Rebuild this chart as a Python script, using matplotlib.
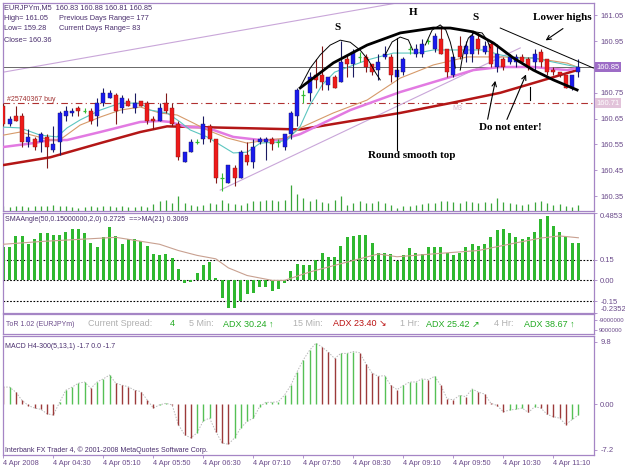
import matplotlib
matplotlib.use("Agg")
import matplotlib.pyplot as plt

plt.rcParams['font.family'] = ['Liberation Sans', 'DejaVu Sans']

# ---- EURJPYm M5 candles, 4 Apr 2008 03:50 .. 11:30 ----
opens = [160.70, 160.63, 160.66, 160.66, 160.56, 160.57, 160.56, 160.58, 160.53, 160.56,
         160.66, 160.67, 160.69, 160.68, 160.68, 160.66, 160.71, 160.73, 160.74, 160.69,
         160.72, 160.69, 160.72, 160.71, 160.65, 160.64, 160.71, 160.69, 160.63, 160.48,
         160.52, 160.56, 160.57, 160.62, 160.57, 160.42, 160.40, 160.46, 160.42, 160.51,
         160.48, 160.56, 160.56, 160.57, 160.56, 160.54, 160.59, 160.66, 160.74, 160.75,
         160.82, 160.82, 160.78, 160.81, 160.79, 160.88, 160.86, 160.89, 160.89, 160.86,
         160.84, 160.89, 160.89, 160.81, 160.83, 160.92, 160.90, 160.90, 160.95, 160.92,
         160.96, 160.92, 160.82, 160.93, 160.90, 160.90, 160.96, 160.91, 160.94, 160.85,
         160.88, 160.87, 160.87, 160.89, 160.88, 160.87, 160.91, 160.88, 160.84, 160.83,
         160.82, 160.77, 160.83]
highs = [160.71, 160.66, 160.70, 160.67, 160.61, 160.58, 160.60, 160.59, 160.62, 160.68,
         160.70, 160.69, 160.70, 160.69, 160.69, 160.73, 160.77, 160.76, 160.75, 160.74,
         160.73, 160.75, 160.72, 160.72, 160.66, 160.71, 160.75, 160.71, 160.64, 160.52,
         160.57, 160.57, 160.66, 160.63, 160.57, 160.44, 160.47, 160.47, 160.53, 160.56,
         160.57, 160.58, 160.58, 160.58, 160.57, 160.59, 160.68, 160.77, 160.76, 160.83,
         160.88, 160.93, 160.81, 160.82, 160.95, 160.90, 160.92, 160.91, 160.90, 160.86,
         160.90, 160.93, 160.90, 160.92, 160.89, 160.93, 160.94, 160.96, 160.96, 160.98,
         161.01, 160.92, 160.89, 160.97, 160.95, 160.99, 160.98, 160.95, 160.95, 160.94,
         160.89, 160.90, 160.90, 160.90, 160.89, 160.92, 160.92, 160.88, 160.85, 160.83,
         160.82, 160.82, 160.88]
lows = [160.62, 160.62, 160.64, 160.54, 160.54, 160.53, 160.52, 160.46, 160.52, 160.51,
        160.64, 160.66, 160.66, 160.67, 160.63, 160.62, 160.70, 160.73, 160.63, 160.67,
        160.70, 160.67, 160.70, 160.63, 160.61, 160.64, 160.67, 160.62, 160.49, 160.48,
        160.52, 160.55, 160.55, 160.56, 160.40, 160.37, 160.40, 160.39, 160.42, 160.47,
        160.46, 160.55, 160.49, 160.53, 160.54, 160.53, 160.57, 160.62, 160.71, 160.72,
        160.77, 160.76, 160.76, 160.77, 160.79, 160.81, 160.81, 160.87, 160.83, 160.82,
        160.80, 160.88, 160.79, 160.80, 160.82, 160.90, 160.89, 160.89, 160.94, 160.91,
        160.90, 160.81, 160.81, 160.88, 160.87, 160.87, 160.90, 160.90, 160.85, 160.83,
        160.84, 160.86, 160.85, 160.86, 160.84, 160.84, 160.85, 160.82, 160.82, 160.81,
        160.77, 160.76, 160.81]
closes = [160.63, 160.65, 160.64, 160.56, 160.58, 160.54, 160.59, 160.54, 160.55, 160.67,
          160.68, 160.68, 160.68, 160.68, 160.64, 160.71, 160.75, 160.75, 160.68, 160.73,
          160.70, 160.71, 160.70, 160.64, 160.64, 160.69, 160.68, 160.63, 160.50, 160.52,
          160.56, 160.56, 160.63, 160.57, 160.42, 160.42, 160.47, 160.42, 160.52, 160.48,
          160.54, 160.57, 160.57, 160.55, 160.56, 160.59, 160.67, 160.76, 160.74, 160.81,
          160.80, 160.79, 160.81, 160.77, 160.87, 160.86, 160.91, 160.89, 160.85, 160.83,
          160.87, 160.90, 160.82, 160.84, 160.88, 160.92, 160.92, 160.94, 160.95, 160.97,
          160.90, 160.83, 160.89, 160.89, 160.93, 160.97, 160.92, 160.93, 160.86, 160.90,
          160.85, 160.89, 160.89, 160.87, 160.85, 160.90, 160.87, 160.83, 160.83, 160.82,
          160.77, 160.82, 160.85]
volumes = [50, 45, 50, 55, 45, 50, 55, 55, 60, 55,
           55, 40, 35, 40, 50, 45, 50, 55, 45, 50,
           40, 45, 50, 45, 70, 100, 110, 80, 150, 80,
           65, 50, 65, 80, 70, 115, 80, 70, 65, 80,
           100, 105, 115, 115, 100, 110, 260, 170, 130, 100,
           125, 95, 85, 115, 150, 65, 85, 100, 85, 85,
           100, 85, 65, 35, 50, 50, 65, 75, 85, 85,
           100, 105, 95, 85, 105, 95, 85, 95, 85, 135,
           95, 85, 75, 65, 75, 95, 100, 85, 65, 75,
           50, 40, 65]

# moving averages on the price chart, sampled as (bar, price)
ma_fast_x = [0, 2.7, 5.9, 8.6, 10.2, 12.3, 15.5, 18.7, 21.9, 23.5, 26.2, 28.3, 29.9, 32.6,
             34.7, 36.8, 39, 41.1, 43.8, 45.4, 47.5, 49, 51, 53, 58.2, 62.4, 66.2, 68.8,
             74.2, 76.8, 79.5, 82.2, 84.8, 88, 91.8]
ma_fast_y = [160.617, 160.614, 160.586, 160.579, 160.614, 160.645, 160.683, 160.71, 160.71,
             160.683, 160.672, 160.637, 160.606, 160.579, 160.548, 160.517, 160.52, 160.555,
             160.559, 160.567, 160.62, 160.70, 160.78, 160.83, 160.877, 160.904, 160.904,
             160.916, 160.916, 160.916, 160.897, 160.885, 160.885, 160.869, 160.85]
ma_mid_x = [0, 2.7, 7.5, 9, 12.3, 15.5, 18.7, 21.9, 25, 27.8, 30.4, 32.6, 35.8, 39, 42.2,
            45.4, 47.5, 52.8, 58.2, 63.5, 68.8, 74.2, 79.5, 84.8, 90.2, 91.8]
ma_mid_y = [160.586, 160.598, 160.567, 160.567, 160.625, 160.656, 160.683, 160.695, 160.672,
            160.664, 160.633, 160.606, 160.575, 160.555, 160.567, 160.575, 160.614, 160.672,
            160.722, 160.807, 160.858, 160.889, 160.889, 160.885, 160.865, 160.85]
ma_pink_x = [0, 4.8, 7.5, 10.2, 15.5, 21.9, 25, 26.7, 29.4, 31.5, 33.6, 36.8, 41.1, 44.3,
             47.5, 55.5, 63.5, 71.5, 75.2, 79.5, 84.8, 90.2, 91.8]
ma_pink_y = [160.54, 160.555, 160.567, 160.567, 160.598, 160.637, 160.641, 160.637, 160.617,
             160.617, 160.606, 160.579, 160.567, 160.567, 160.59, 160.683, 160.753, 160.811,
             160.838, 160.85, 160.85, 160.838, 160.846]
ma_slow_x = [0, 7.5, 15.5, 21.9, 26.2, 31.5, 36.8, 47.5, 63.5, 71.5, 79.5, 87.5, 91.8]
ma_slow_y = [160.47, 160.50, 160.555, 160.598, 160.62, 160.617, 160.614, 160.608, 160.672,
             160.71, 160.75, 160.807, 160.838]

# SMAAngle histogram and its MA(21)
sma_angle = [0.24, 0.24, 0.32, 0.32, 0.26, 0.30, 0.34, 0.34, 0.33, 0.33,
             0.35, 0.37, 0.37, 0.34, 0.27, 0.24, 0.31, 0.385, 0.32, 0.26,
             0.30, 0.30, 0.28, 0.25, 0.19, 0.18, 0.19, 0.16, 0.08, -0.02,
             -0.01, 0.05, 0.11, 0.13, 0.02, -0.13, -0.20, -0.20, -0.15, -0.10,
             -0.09, -0.05, -0.05, -0.08, -0.06, -0.02, 0.065, 0.12, 0.11, 0.11,
             0.15, 0.20, 0.17, 0.17, 0.25, 0.31, 0.32, 0.33, 0.33, 0.27,
             0.20, 0.20, 0.19, 0.14, 0.18, 0.23, 0.20, 0.19, 0.24, 0.24,
             0.24, 0.20, 0.18, 0.20, 0.24, 0.26, 0.25, 0.26, 0.31, 0.36,
             0.37, 0.34, 0.31, 0.30, 0.31, 0.35, 0.44, 0.465, 0.39, 0.35,
             0.31, 0.27, 0.2725]
sma_ma_x = [0, 6, 18, 25, 28, 31, 34, 36, 39, 43, 45, 49, 54, 57, 60, 63, 70, 76, 82, 86, 89, 92]
sma_ma_y = [0.26, 0.28, 0.31, 0.26, 0.215, 0.18, 0.155, 0.09, 0.035, 0.0, 0.0, 0.06, 0.12,
            0.155, 0.19, 0.17, 0.195, 0.215, 0.27, 0.305, 0.32, 0.3069]

# MACD H4-300(5,13,1)
macd = [2.7, 2.7, 1.9, 0.6, -0.2, -0.6, -0.8, -1.5, -1.7, 0.3,
        2.2, 2.7, 3.3, 3.5, 2.5, 3.5, 4.0, 4.6, 3.3, 3.0,
        2.75, 2.2, 2.0, 0.7, -0.6, -0.1, 0.15, -0.1, -3.2, -4.8,
        -5.3, -4.5, -2.6, -2.2, -4.3, -6.1, -6.3, -5.3, -3.7, -2.7,
        -2.2, -0.4, 0.3, 0.3, 0.4, 1.45, 3.0, 5.1, 7.0, 8.5,
        9.6, 9.0, 8.2, 7.2, 8.0, 8.0, 8.3, 8.1, 6.4, 4.9,
        4.4, 4.5, 2.95, 2.3, 2.95, 3.5, 3.5, 4.0, 3.85, 4.4,
        2.95, 0.85, 0.7, 1.4, 1.2, 2.4, 1.9, 1.6, 0.15, -0.2,
        -1.2, -0.9, -0.8, -0.6, -1.3, -0.4, -0.6, -1.6, -1.95, -2.2,
        -3.2, -2.4, -1.7]

time_ticks = [0, 8, 16, 24, 32, 40, 48, 56, 64, 72, 80, 88]
time_labels = ["4 Apr 2008", "4 Apr 04:30", "4 Apr 05:10", "4 Apr 05:50", "4 Apr 06:30",
               "4 Apr 07:10", "4 Apr 07:50", "4 Apr 08:30", "4 Apr 09:10", "4 Apr 09:50",
               "4 Apr 10:30", "4 Apr 11:10"]
price_ticks = [160.35, 160.45, 160.55, 160.65, 160.75, 160.95, 161.05]
last_price = 160.85
order_price = 160.71

# ---- layout in pixels ----
W, H = 625, 469
BORDER = '#a585c5'
LABEL = '#6a4a8a'
TEXT = '#4a2f6e'
XLIM = (-0.05, 94.5)

fig = plt.figure(figsize=(W / 100, H / 100), dpi=100)
fig.patch.set_facecolor('white')


def panel(top, bottom, left=3, right=594):
    ax = fig.add_axes([left / W, 1 - bottom / H, (right - left) / W, (bottom - top) / H])
    ax.set_xlim(*XLIM)
    for s in ax.spines.values():
        s.set_color(BORDER)
        s.set_linewidth(0.9)
    ax.yaxis.tick_right()
    ax.tick_params(axis='y', direction='out', length=2.5, width=0.6, color=BORDER,
                   labelcolor=LABEL, labelsize=5.5, pad=2)
    ax.tick_params(axis='x', bottom=False, labelbottom=False)
    return ax


def ftext(px, py, s, **kw):
    fig.text(px / W, 1 - py / H, s, va='center', **kw)


# ---- main price chart ----
ax = panel(3, 211)
ax.set_ylim(160.292, 161.098)
ax.set_yticks(price_ticks)
ax.set_yticklabels([f"{p:.2f}" for p in price_ticks])

idx = list(range(len(opens)))

# volumes along the bottom of the price chart
vol_scale = 2080
ax.vlines(idx, 0, [v / vol_scale for v in volumes], transform=ax.get_xaxis_transform(),
          color='#3aa63a', lw=0.9, zorder=1)

# trend lines and levels
ax.plot([0, 70], [160.83, 161.128], color='#c9a6d9', lw=0.8, zorder=2)
ax.plot([34.7, 82.7], [160.373, 160.924], color='#c9a6d9', lw=0.8, zorder=2)
ax.axhline(last_price, color='#505050', lw=0.6, zorder=2)
ax.axhline(order_price, color='#b03030', lw=0.8, ls=(0, (6, 3, 1, 3)), zorder=2)

# moving averages
ax.plot(ma_slow_x, ma_slow_y, color='#b31616', lw=1.8, zorder=3)
ax.plot(ma_pink_x, ma_pink_y, color='#e27ae2', lw=1.8, zorder=3)
ax.plot(ma_mid_x, ma_mid_y, color='#d69a6a', lw=0.8, zorder=3)
ax.plot(ma_fast_x, ma_fast_y, color='#5cc6c0', lw=0.8, zorder=3)

# candles
for i in idx:
    o, h, l, c = opens[i], highs[i], lows[i], closes[i]
    if c > o:
        body, wick = '#1a1aee', '#1a1a60'
    elif c < o:
        body, wick = '#ee1a1a', '#801818'
    else:
        body, wick = '#33bb33', '#33bb33'
    ax.vlines(i, l, h, color=wick, lw=0.8, zorder=4)
    if c == o:
        ax.hlines(o, i - 0.3, i + 0.3, color=body, lw=0.9, zorder=5)
    else:
        ax.bar(i, abs(c - o), bottom=min(o, c), width=0.62, color=body,
               edgecolor=wick, linewidth=0.3, zorder=5)

# hand drawn head-and-shoulders marks
ax.plot([47.5, 52.8, 58.2, 63.5, 68.8, 71.5, 75.2, 78.4, 81.6, 84.8, 88, 91.8],
        [160.769, 160.866, 160.935, 160.982, 161.001, 161.001, 160.986, 160.943,
         160.885, 160.838, 160.80, 160.761], color='black', lw=2.0, zorder=6)
ax.plot([47.5, 49.1, 50.7, 52.3, 53.9, 55.5, 57.1, 58.4, 59.5, 60.3],
        [160.772, 160.846, 160.897, 160.935, 160.954, 160.946, 160.915, 160.877, 160.83, 160.80],
        color='black', lw=0.7, zorder=6)
ax.plot([61.1, 62.2, 63.5, 64.8, 65.5], [160.897, 160.947, 160.966, 160.955, 160.916],
        color='black', lw=0.7, zorder=6)
ax.plot([67.5, 68.6, 69.9, 70.8, 71.5, 72.0, 72.3],
        [160.935, 160.993, 161.013, 160.993, 160.947, 160.897, 160.846],
        color='black', lw=0.7, zorder=6)
ax.plot([73.1, 73.6, 74.4, 75.5, 76.6, 77.4, 77.9],
        [160.838, 160.908, 160.962, 160.986, 160.982, 160.955, 160.924],
        color='black', lw=0.7, zorder=6)
ax.plot([79.5, 94.4], [161.001, 160.846], color='black', lw=0.7, zorder=6)
ax.plot([63, 63], [160.962, 160.528], color='black', lw=0.8, zorder=6)
ax.plot([84.3, 84.3], [160.772, 160.722], color='black', lw=0.8, zorder=6)

arrow = dict(arrowstyle='->', color='black', lw=0.8, mutation_scale=8)
ax.annotate('', xy=(78.8, 160.807), xytext=(77.4, 160.637), arrowprops=arrow, zorder=6)
ax.annotate('', xy=(83.8, 160.831), xytext=(80.4, 160.637), arrowprops=arrow, zorder=6)
ax.annotate('', xy=(86.4, 160.947), xytext=(89.9, 161.005), arrowprops=arrow, zorder=6)

serif = dict(family=['Liberation Serif', 'DejaVu Serif'], fontweight='bold', color='black',
             ha='center', va='center', zorder=7)
ax.text(53.4, 161.005, 'S', fontsize=8, **serif)
ax.text(65.5, 161.063, 'H', fontsize=8, **serif)
ax.text(75.5, 161.04, 'S', fontsize=8, **serif)
ax.text(89.5, 161.04, 'Lower highs', fontsize=8, **serif)
ax.text(65.4, 160.509, 'Round smooth top', fontsize=8, **serif)
ax.text(81.1, 160.614, 'Do not enter!', fontsize=8, **serif)

ax.text(0.6, 160.726, '#25740367 buy', fontsize=5, color='#a03030', va='center', zorder=7)
ax.text(71.8, 160.69, 'M3', fontsize=5, color='#d0b8d0', va='center', zorder=7)

# price boxes on the right scale
ax.text(1.004, last_price, f"{last_price:.2f}", transform=ax.get_yaxis_transform(),
        fontsize=5.5, color='white', va='center', ha='left',
        bbox=dict(boxstyle='square,pad=0.2', fc='#9d6cc6', ec='none'))
ax.text(1.004, order_price, f"{order_price:.2f}", transform=ax.get_yaxis_transform(),
        fontsize=5.5, color='white', va='center', ha='left',
        bbox=dict(boxstyle='square,pad=0.2', fc='#e2c3da', ec='none'))

# info block
ftext(4, 8, 'EURJPYm,M5  160.83 160.88 160.81 160.85', fontsize=5.3, color=TEXT)
ftext(4, 18, 'High= 161.05', fontsize=5.3, color=TEXT)
ftext(59, 18, 'Previous Days Range= 177', fontsize=5.3, color=TEXT)
ftext(4, 29, 'Low= 159.28', fontsize=5.3, color=TEXT)
ftext(59, 29, 'Current Days Range= 83', fontsize=5.3, color=TEXT)
ftext(4, 40, 'Close= 160.36', fontsize=5.3, color=TEXT)

# ---- SMAAngle panel ----
ax2 = panel(213, 313)
ax2.set_ylim(-0.2352, 0.4853)
ax2.bar(idx, sma_angle, width=0.5, color='#2fb82f', zorder=2)
ax2.plot(sma_ma_x, sma_ma_y, color='#c8a090', lw=0.8, zorder=3)
for lvl in (0.15, 0.0, -0.15):
    ax2.axhline(lvl, color='black', lw=0.8, ls=(0, (1.5, 1.5)), zorder=1)
ax2.set_yticks([0.4853, 0.15, 0.0, -0.15, -0.2352])
ax2.set_yticklabels(['0.4853', '0.15', '0.00', '-0.15', '-0.2352'])
tl = ax2.get_yticklabels()
tl[0].set_va('top')
tl[-1].set_va('bottom')
ftext(5, 219, 'SMAAngle(50,0.15000000,2,0) 0.2725  ==>MA(21) 0.3069', fontsize=5, color=TEXT)

# ---- ToR strip ----
ax3 = panel(314, 334)
ax3.set_ylim(0, 1)
ax3.set_yticks([0.7, 0.2])
ax3.set_yticklabels(['-9000000', '9000000'])
ax3.tick_params(axis='y', labelsize=4.3, pad=1)
ftext(6, 324, 'ToR 1.02 (EURJPYm)', fontsize=5, color='#6a4a8a')
ftext(88, 324, 'Current Spread:', fontsize=6.5, color='#b0b0b0')
ftext(170, 324, '4', fontsize=6.5, color='#22aa22')
ftext(189, 324, '5 Min:', fontsize=6.5, color='#b0b0b0')
ftext(223, 324, 'ADX 30.24 \u2191', fontsize=6.5, color='#22aa22')
ftext(293, 324, '15 Min:', fontsize=6.5, color='#b0b0b0')
ftext(333, 324, 'ADX 23.40 \u2198', fontsize=6.5, color='#bb1111')
ftext(400, 324, '1 Hr:', fontsize=6.5, color='#b0b0b0')
ftext(426, 324, 'ADX 25.42 \u2197', fontsize=6.5, color='#22aa22')
ftext(494, 324, '4 Hr:', fontsize=6.5, color='#b0b0b0')
ftext(524, 324, 'ADX 38.67 \u2191', fontsize=6.5, color='#22aa22')

# ---- MACD panel ----
ax4 = panel(336, 455)
ax4.set_ylim(-7.99, 10.74)
colors = ['#9c3a3a'] + ['#55c055' if macd[i] >= macd[i - 1] else '#9c3a3a'
                        for i in range(1, len(macd))]
ax4.vlines(idx, 0, macd, colors=colors, lw=1.0, zorder=2)
ax4.plot(idx, macd, color='#b8b8b8', lw=0.7, ls=(0, (1.5, 1.5)), zorder=1)
ax4.set_yticks([9.8, 0.0, -7.2])
ax4.set_yticklabels(['9.8', '0.00', '-7.2'])
ax4.tick_params(axis='x', bottom=True, labelbottom=True, direction='out', length=2,
                width=0.6, color=BORDER, labelcolor=LABEL, labelsize=5.3, pad=1.5)
ax4.set_xticks(time_ticks)
ax4.set_xticklabels(time_labels, ha='left')
ftext(5, 346, 'MACD H4-300(5,13,1) -1.7 0.0 -1.7', fontsize=5, color=TEXT)
ftext(5, 450, 'Interbank FX Trader 4, \u00a9 2001-2008 MetaQuotes Software Corp.',
      fontsize=5, color=TEXT)

fig.savefig('out.png', dpi=100)
